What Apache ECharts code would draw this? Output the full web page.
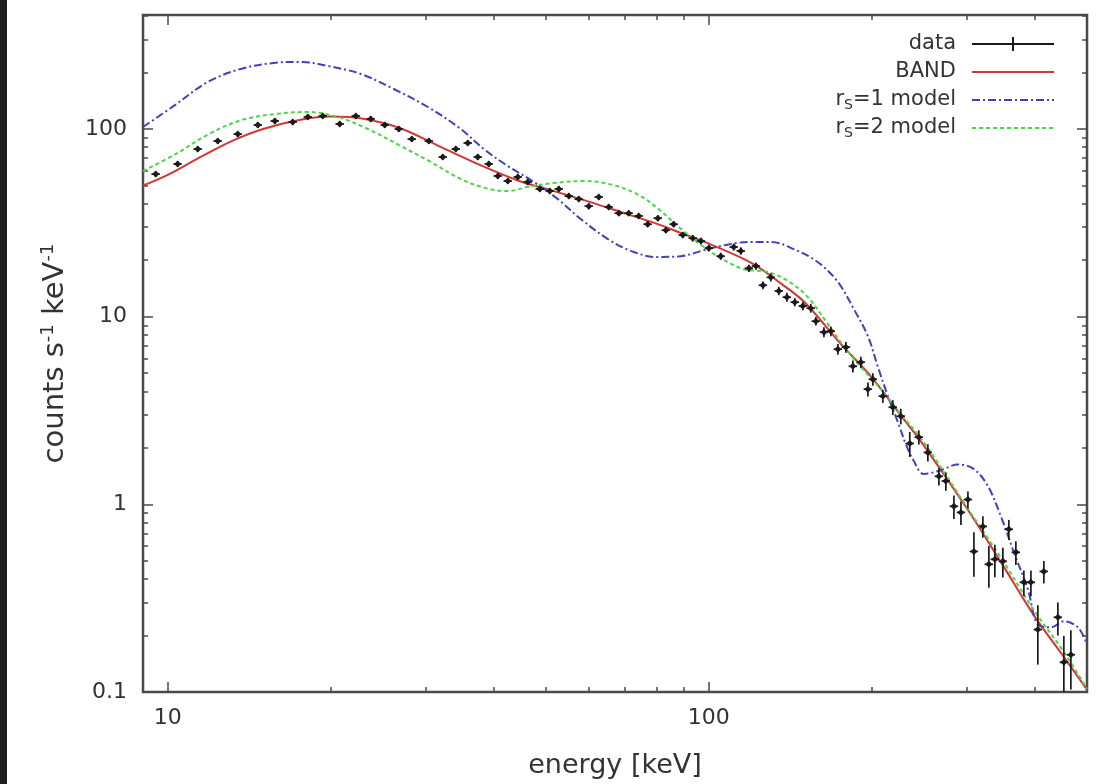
<!DOCTYPE html>
<html>
<head>
<meta charset="utf-8">
<script src="https://cdn.jsdelivr.net/npm/echarts@6/dist/echarts.min.js"></script>
<style>
html,body{margin:0;padding:0;background:#fff;}
#c{position:absolute;left:0;top:0;width:1099px;height:784px;}
#strip{position:absolute;left:0;top:0;width:7px;height:784px;background:#1e1e1e;}
</style>
</head>
<body>
<div id="c"></div>
<div id="strip"></div>
<script>
// ---- data ----
const dataE = [9.50,10.43,11.36,12.37,13.47,14.67,15.77,17.02,18.15,19.34,20.79,22.26,23.72,25.18,26.73,28.25,30.37,32.23,34.07,35.85,37.41,39.20,40.74,42.51,44.36,46.28,48.71,50.83,52.81,55.11,57.5,60.0,62.6,65.3,68.2,71.1,74.2,77.1,80.5,83.3,86.1,89.5,93.4,96.7,100,105.2,111.2,114.6,118.6,122.2,125.9,130.2,134.7,139.4,144.2,149.2,154.3,157.7,163.2,168.1,173.2,179.2,184.6,191.0,196.8,201.0,209.7,218.8,226.4,235.2,244.4,254.0,266.2,274.2,283.8,292.4,301.2,309.0,321.0,329.3,337.8,349.5,358.5,369.4,382.2,393.8,405.6,416.1,441.7,453.1,466.8];
const dataV = [57.5,65.1,78.2,86.3,94.0,105,110.3,109.0,115.9,117.3,106.3,117.3,113.1,105,100,88.4,86.3,70.9,78.2,84.2,70.9,65.1,56.2,52.8,55.5,52.2,47.9,46.7,47.9,43.9,42.3,38.8,43.4,38.4,35.6,35.6,34.4,31.1,33.5,28.9,31.1,27.2,26.2,25.3,23.2,21.0,23.5,22.4,18.1,18.6,14.7,16.2,13.7,12.7,11.95,11.4,11.1,9.46,8.27,8.37,6.71,6.88,5.44,5.72,4.11,4.64,3.77,3.29,2.95,2.11,2.28,1.89,1.41,1.33,0.976,0.906,1.06,0.561,0.763,0.479,0.509,0.497,0.736,0.555,0.384,0.384,0.215,0.439,0.25,0.144,0.158];
const dataErr = [2.0,2.3,2.7,3.0,3.3,3.6,3.8,3.8,4.0,4.0,3.7,4.0,3.9,3.6,3.5,3.1,3.0,2.5,2.7,2.9,2.5,2.3,2.0,1.8,1.9,1.8,1.7,1.6,1.7,1.5,1.5,1.4,1.5,1.3,1.2,1.2,1.2,1.1,1.2,1.0,1.1,1.0,1.0,1.0,0.9,0.9,1.0,1.0,0.8,0.8,0.7,0.8,0.7,0.7,0.6,0.6,0.6,0.5,0.5,0.5,0.45,0.45,0.4,0.4,0.35,0.35,0.3,0.3,0.28,0.32,0.2,0.2,0.15,0.15,0.14,0.13,0.11,0.15,0.1,0.12,0.1,0.09,0.09,0.08,0.06,0.06,0.075,0.06,0.05,0.055,0.055];

const bandE = [9,10,11.5,13.1,15,17.6,20,22.7,26.9,32,37.9,44.9,50,60,70,80,90,100,120,136,150,175,200,226,250,300,350,400,450,500];
const bandV = [50,57,71,86,100,112,116.5,114,101,80,64,52.5,48,41,35.5,31.3,27.5,24.5,19.3,15.0,12.0,7.2,4.75,3.0,2.05,0.95,0.47,0.253,0.158,0.103];

const rs1E = [9,10.26,11.86,13.64,15.7,17.62,19.75,22.74,26.16,30.24,34.8,38.4,42.5,47.5,52.6,58.0,65.1,71.8,79.8,88.8,97.9,107.5,118.6,130.2,143.6,159.1,173.2,185.4,196.8,205.4,214.3,223.6,231.3,239.3,249.7,268.5,288.6,309.0,328.0,346.6,366.3,388.8,405.6,428.7,453.2,481,500];
const rs1V = [102.5,132.7,178.1,208.9,224.9,227.7,216.8,196.5,163.4,131.0,100,78.2,63.5,52.2,42.3,33.1,25.9,22.4,20.8,21.0,22.6,24.1,25.0,25.0,22.9,19.5,15.3,10.96,7.87,5.38,3.77,2.74,2.09,1.70,1.45,1.52,1.63,1.54,1.25,0.863,0.555,0.352,0.229,0.221,0.238,0.221,0.18];

const rs2E = [9,10.35,11.91,13.70,15.83,18.15,20.62,23.42,26.73,30.63,34.8,38.7,42.5,46.3,51.5,58.7,66.5,74.2,80.8,88.0,96.7,105.2,116.1,128.5,140.0,152.4,166,179.2,192.6,208,226.4,249.7,300,350,400,450,500];
const rs2V = [59.7,73.6,94.0,111.7,120.2,123.2,115.9,100,82.2,66.7,54.1,48.4,46.7,49.1,51.5,52.8,50.3,44.5,37.4,30.0,24.1,20.5,17.9,17.3,15.5,12.7,9.12,6.71,5.25,4.11,3.02,2.14,0.964,0.497,0.269,0.168,0.104];

const seriesNames = ['data','BAND','rS=1 model','rS=2 model'];
const xMajorTicks = [10,100];
const xTickLabels = ['10','100'];
const xMinorTicks = [20,30,40,50,60,70,80,90,200,300,400];
const yMajorTicks = [0.1,1,10,100];
const yTickLabels = ['0.1','1','10','100'];
const yMinorTicks = [0.2,0.3,0.4,0.5,0.6,0.7,0.8,0.9,2,3,4,5,6,7,8,9,20,30,40,50,60,70,80,90,200,300,400];
const xTitle = 'energy [keV]';
const yTitle = 'counts s{sup|-1} keV{sup|-1}';

// ---- chart ----
const FONT = '"DejaVu Sans", "Liberation Sans", Arial, sans-serif';
const TXT = '#333';
const AX = '#4a4a4a';
const X_MIN = 9, X_MAX = 500, Y_MIN = 0.1, Y_MAX = 405;
const binFrac = 0.018;

function labelFor(ticks, labels) {
  return v => {
    const i = ticks.findIndex(t => Math.abs(Math.log10(t) - Math.log10(v)) < 1e-6);
    return i >= 0 ? labels[i] : '';
  };
}

function xAx(pos, ticks, len, withLabels) {
  return {
    type: 'log', logBase: 10, min: X_MIN, max: X_MAX, position: pos, gridIndex: 0,
    axisLine: {show: false},
    axisTick: {show: true, inside: true, length: len, customValues: ticks, lineStyle: {color: AX, width: 1.5}},
    axisLabel: withLabels ? {show: true, customValues: xMajorTicks, formatter: labelFor(xMajorTicks, xTickLabels),
      fontSize: 22, color: TXT, fontFamily: FONT, margin: 15} : {show: false},
    splitLine: {show: false}, minorTick: {show: false}
  };
}
function yAx(pos, ticks, len, withLabels) {
  return {
    type: 'log', logBase: 10, min: Y_MIN, max: Y_MAX, position: pos, gridIndex: 0,
    axisLine: {show: false},
    axisTick: {show: true, inside: true, length: len, customValues: ticks, lineStyle: {color: AX, width: 1.5}},
    axisLabel: withLabels ? {show: true, customValues: yMajorTicks, formatter: labelFor(yMajorTicks, yTickLabels),
      fontSize: 22, color: TXT, fontFamily: FONT, margin: 16} : {show: false},
    splitLine: {show: false}, minorTick: {show: false}
  };
}

const xAxes = [
  Object.assign(xAx('bottom', xMajorTicks, 10, true), {
    name: xTitle, nameLocation: 'middle', nameGap: 60,
    nameTextStyle: {fontSize: 27, color: TXT, fontFamily: FONT}
  }),
  xAx('top', xMajorTicks, 10, false),
  xAx('bottom', xMinorTicks, 5, false),
  xAx('top', xMinorTicks, 5, false)
];
const yAxes = [
  Object.assign(yAx('left', yMajorTicks, 10, true), {
    name: yTitle, nameLocation: 'middle', nameGap: 72, nameRotate: 90,
    nameTextStyle: {fontSize: 29, color: TXT, fontFamily: FONT, lineHeight: 32,
      rich: {sup: {fontSize: 18, lineHeight: 18, padding: [0, 0, 13, 0], fontFamily: FONT, color: TXT}}}
  }),
  yAx('right', yMajorTicks, 10, false),
  yAx('left', yMinorTicks, 5, false),
  yAx('right', yMinorTicks, 5, false)
];

function zip(a, b) { return a.map((v, i) => [v, b[i]]); }

const noSym = {color: 'rgba(0,0,0,0)', borderColor: 'rgba(0,0,0,0)', borderWidth: 0, opacity: 0};

const chart = echarts.init(document.getElementById('c'), null, {renderer: 'canvas'});
chart.setOption({
  backgroundColor: '#fff',
  animation: false,
  grid: {left: 143, top: 15, width: 944, height: 677, show: true, borderColor: AX, borderWidth: 2.5, backgroundColor: 'transparent'},
  xAxis: xAxes,
  yAxis: yAxes,
  legend: {
    orient: 'vertical', right: 44, top: 32, align: 'right', padding: 0, itemGap: 4,
    itemWidth: 82, itemHeight: 16, selectedMode: false,
    data: [
      {name: seriesNames[0], icon: 'path://M0,7h82v2h-82z M40,1h2v14h-2z'},
      {name: seriesNames[1], itemStyle: noSym},
      {name: seriesNames[2], itemStyle: noSym},
      {name: seriesNames[3], itemStyle: noSym}
    ],
    formatter: n => n.replace(/^rS/, 'r{sub|S}'),
    textStyle: {fontSize: 21, color: TXT, fontFamily: FONT, lineHeight: 24, padding: [0, 11, 0, 0],
      rich: {sub: {fontSize: 14, lineHeight: 14, padding: [10, 0, 0, 0], color: TXT, fontFamily: FONT}}}
  },
  series: [
    {
      name: seriesNames[1], type: 'line', xAxisIndex: 0, yAxisIndex: 0,
      data: zip(bandE, bandV), showSymbol: false, symbol: 'none', smooth: 0.35,
      lineStyle: {color: '#d63535', width: 2}, itemStyle: {color: '#d63535'}, z: 3
    },
    {
      name: seriesNames[2], type: 'line', xAxisIndex: 0, yAxisIndex: 0,
      data: zip(rs1E, rs1V), showSymbol: false, symbol: 'none', smooth: 0.35,
      lineStyle: {color: '#4040c4', width: 2, type: [8, 3, 2, 3]}, itemStyle: {color: '#4040c4'}, z: 3
    },
    {
      name: seriesNames[3], type: 'line', xAxisIndex: 0, yAxisIndex: 0,
      data: zip(rs2E, rs2V), showSymbol: false, symbol: 'none', smooth: 0.35,
      lineStyle: {color: '#48d848', width: 2, type: [4, 3]}, itemStyle: {color: '#48d848'}, z: 3
    },
    {
      name: seriesNames[0], type: 'custom', xAxisIndex: 0, yAxisIndex: 0, clip: true, z: 4,
      itemStyle: {color: '#1a1a1a'},
      data: dataE.map((e, i) => [e, dataV[i], dataErr[i]]),
      encode: {x: 0, y: 1},
      renderItem: (params, api) => {
        const E = api.value(0), V = api.value(1), err = api.value(2);
        const c = api.coord([E, V]);
        const lo = api.coord([E, Math.max(V - err, 0.01)]);
        const hi = api.coord([E, V + err]);
        const l = api.coord([E * (1 - binFrac), V]);
        const r = api.coord([E * (1 + binFrac), V]);
        const st = {stroke: '#1a1a1a', lineWidth: 1.7};
        return {
          type: 'group',
          children: [
            {type: 'line', shape: {x1: c[0], y1: lo[1], x2: c[0], y2: hi[1]}, style: st},
            {type: 'line', shape: {x1: l[0], y1: c[1], x2: r[0], y2: c[1]}, style: st},
            {type: 'polygon', shape: {points: [[c[0], c[1] - 3.5], [c[0] + 3.5, c[1]], [c[0], c[1] + 3.5], [c[0] - 3.5, c[1]]]},
              style: {fill: '#1a1a1a'}}
          ]
        };
      }
    }
  ]
});
</script>
</body>
</html>
